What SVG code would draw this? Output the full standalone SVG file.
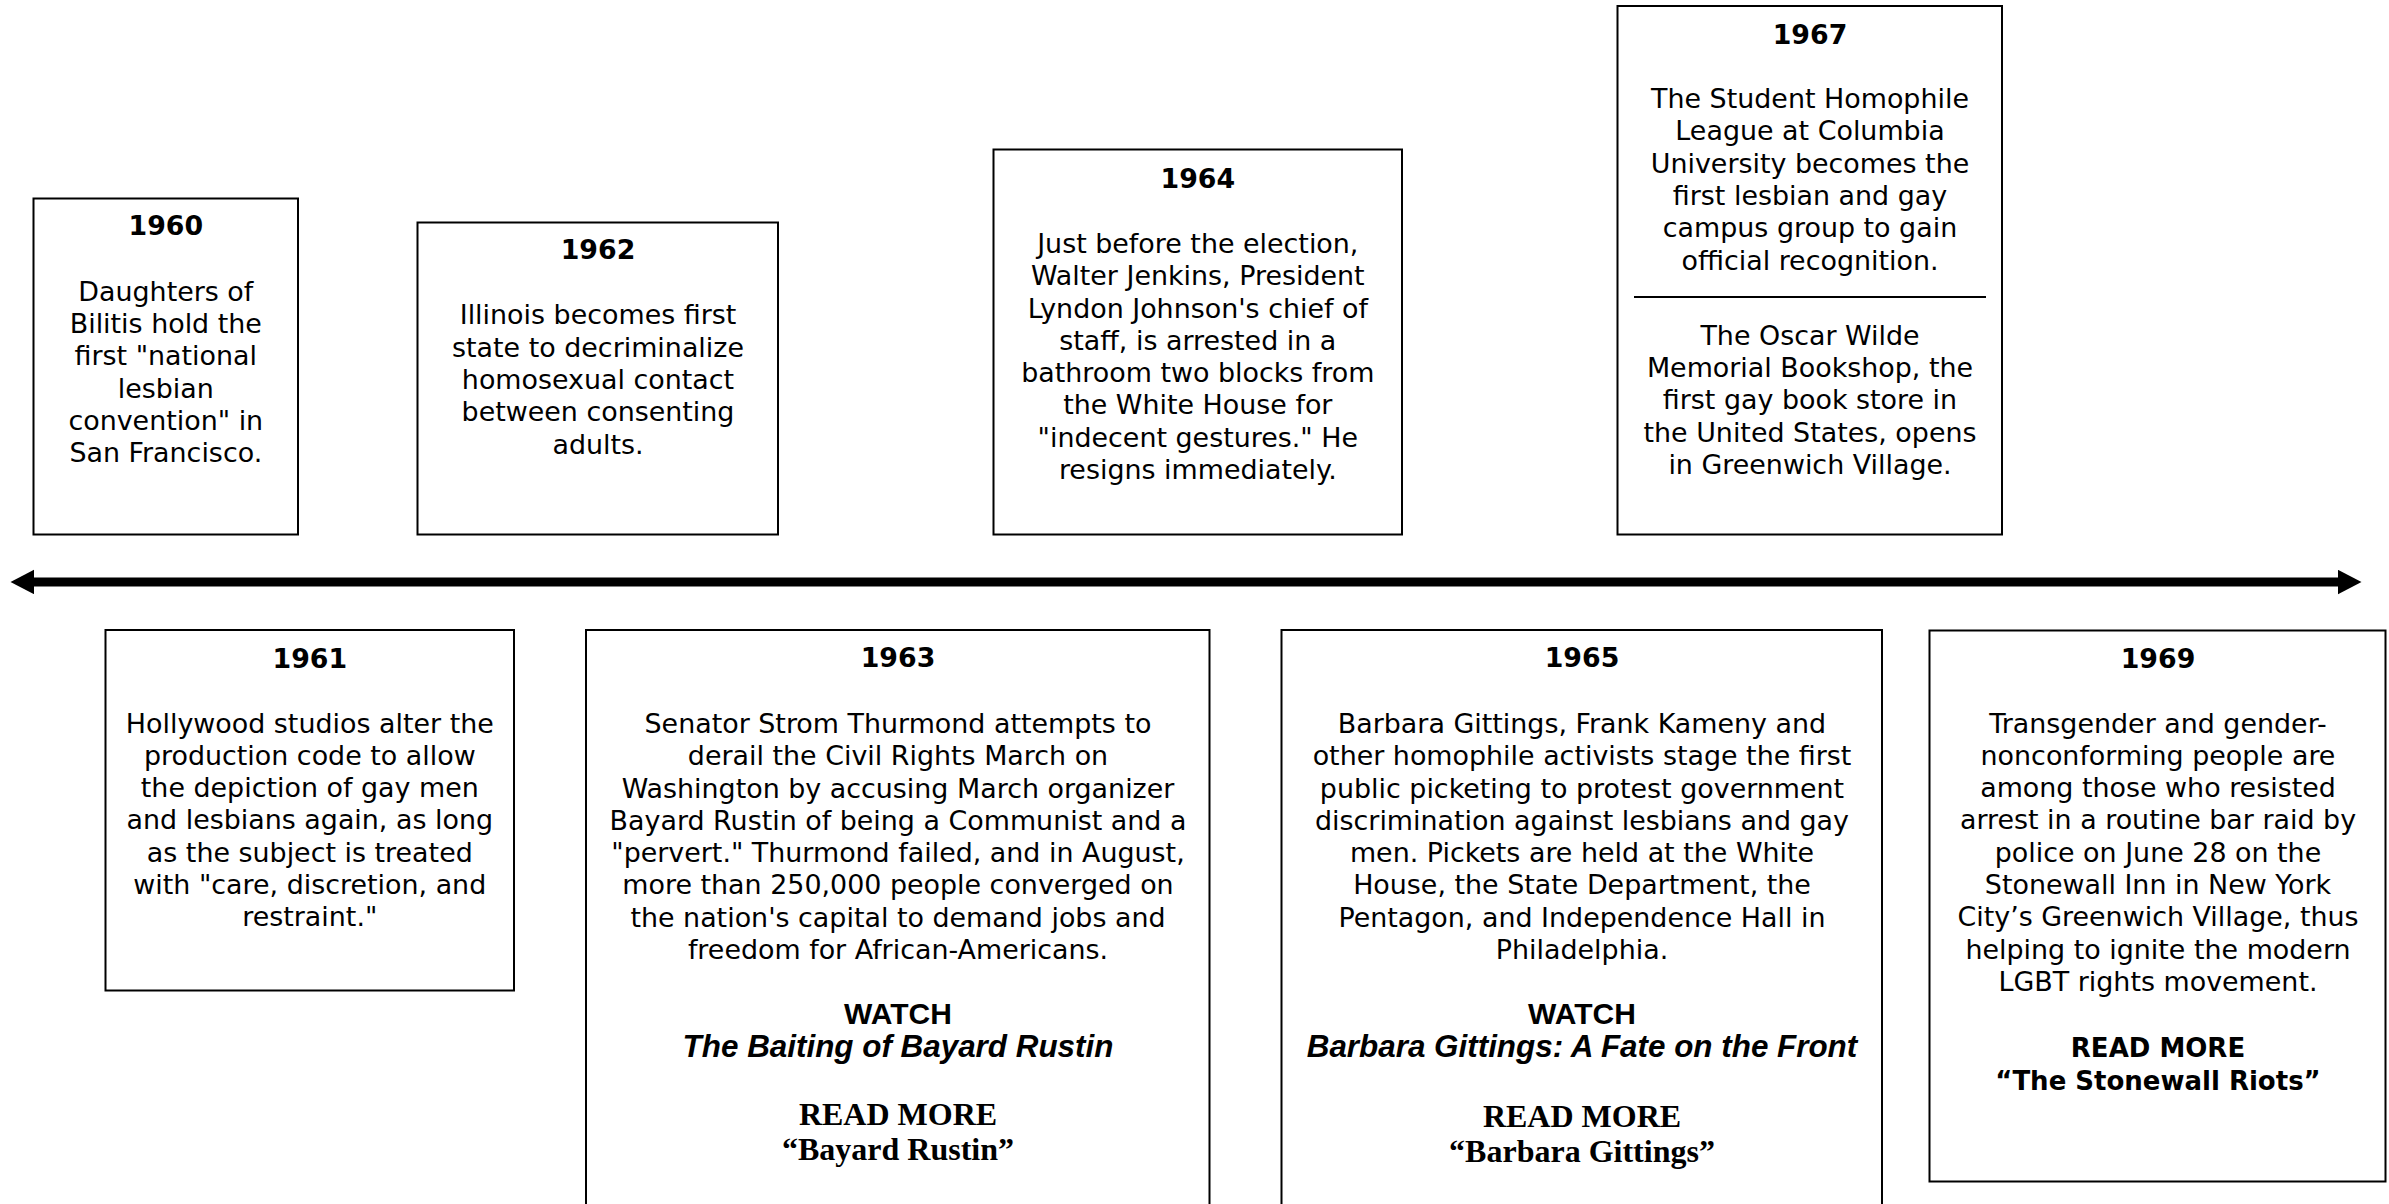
<svg xmlns="http://www.w3.org/2000/svg" width="2389" height="1204" viewBox="0 0 2389 1204">
<defs>
<style>
.box{fill:#fff;stroke:#000;stroke-width:2}
.yr{font-family:"DejaVu Sans",Verdana,sans-serif;font-weight:bold;font-size:26.8px;fill:#000;text-anchor:middle}
.bd{font-family:"DejaVu Sans",Verdana,sans-serif;font-size:26.9px;fill:#000;text-anchor:middle}
.wa{font-family:"Liberation Sans",Arial,sans-serif;font-weight:bold;font-size:30px;fill:#000;text-anchor:middle}
.ti{font-family:"Liberation Sans",Arial,sans-serif;font-weight:bold;font-style:italic;font-size:31.4px;fill:#000;text-anchor:middle}
.rm{font-family:"Liberation Serif","Times New Roman",serif;font-weight:bold;font-size:32px;fill:#000;text-anchor:middle}
.rv{font-family:"DejaVu Sans",Verdana,sans-serif;font-weight:bold;font-size:26px;fill:#000;text-anchor:middle}
</style>
<marker id="ah" markerUnits="userSpaceOnUse" markerWidth="24" markerHeight="25" refX="0" refY="12.2" orient="auto-start-reverse">
<path d="M0,0 L23.5,12.2 L0,24.4 z" fill="#000"/>
</marker>
</defs>
<rect width="2389" height="1204" fill="#fff"/>

<g id="connectors">
<line x1="34" y1="582" x2="2338" y2="582" stroke="#000" stroke-width="9" marker-start="url(#ah)" marker-end="url(#ah)"/>
</g>

<g id="n1960">
<rect class="box" x="33.5" y="198.5" width="264.5" height="336"/>
<text class="yr" x="165.8" y="235">1960</text>
<text class="bd" x="165.8" y="300.7">Daughters of</text>
<text class="bd" x="165.8" y="333">Bilitis hold the</text>
<text class="bd" x="165.8" y="365.3">first "national</text>
<text class="bd" x="165.8" y="397.6">lesbian</text>
<text class="bd" x="165.8" y="429.9">convention" in</text>
<text class="bd" x="165.8" y="462.2">San Francisco.</text>
</g>

<g id="n1962">
<rect class="box" x="417.5" y="222.5" width="360.5" height="312"/>
<text class="yr" x="598" y="259.3">1962</text>
<text class="bd" x="598" y="324.3">Illinois becomes first</text>
<text class="bd" x="598" y="356.6">state to decriminalize</text>
<text class="bd" x="598" y="388.9">homosexual contact</text>
<text class="bd" x="598" y="421.2">between consenting</text>
<text class="bd" x="598" y="453.5">adults.</text>
</g>

<g id="n1964">
<rect class="box" x="993.5" y="149.5" width="408.5" height="385"/>
<text class="yr" x="1197.8" y="187.5">1964</text>
<text class="bd" x="1197.8" y="252.9">Just before the election,</text>
<text class="bd" x="1197.8" y="285.2">Walter Jenkins, President</text>
<text class="bd" x="1197.8" y="317.5">Lyndon Johnson's chief of</text>
<text class="bd" x="1197.8" y="349.8">staff, is arrested in a</text>
<text class="bd" x="1197.8" y="382.1">bathroom two blocks from</text>
<text class="bd" x="1197.8" y="414.4">the White House for</text>
<text class="bd" x="1197.8" y="446.7">"indecent gestures." He</text>
<text class="bd" x="1197.8" y="479">resigns immediately.</text>
</g>

<g id="n1967">
<rect class="box" x="1617.5" y="6" width="384.5" height="528.5"/>
<text class="yr" x="1810" y="43.6">1967</text>
<text class="bd" x="1810" y="108">The Student Homophile</text>
<text class="bd" x="1810" y="140.3">League at Columbia</text>
<text class="bd" x="1810" y="172.6">University becomes the</text>
<text class="bd" x="1810" y="204.9">first lesbian and gay</text>
<text class="bd" x="1810" y="237.2">campus group to gain</text>
<text class="bd" x="1810" y="269.5">official recognition.</text>
<line x1="1634" y1="297" x2="1986" y2="297" stroke="#000" stroke-width="2"/>
<text class="bd" x="1810" y="344.6">The Oscar Wilde</text>
<text class="bd" x="1810" y="376.9">Memorial Bookshop, the</text>
<text class="bd" x="1810" y="409.2">first gay book store in</text>
<text class="bd" x="1810" y="441.5">the United States, opens</text>
<text class="bd" x="1810" y="473.8">in Greenwich Village.</text>
</g>

<g id="n1961">
<rect class="box" x="105.5" y="630" width="408.5" height="360.5"/>
<text class="yr" x="309.8" y="667.6">1961</text>
<text class="bd" x="309.8" y="732.5">Hollywood studios alter the</text>
<text class="bd" x="309.8" y="764.8">production code to allow</text>
<text class="bd" x="309.8" y="797.1">the depiction of gay men</text>
<text class="bd" x="309.8" y="829.4">and lesbians again, as long</text>
<text class="bd" x="309.8" y="861.7">as the subject is treated</text>
<text class="bd" x="309.8" y="894">with "care, discretion, and</text>
<text class="bd" x="309.8" y="926.3">restraint."</text>
</g>

<g id="n1963">
<rect class="box" x="586" y="630" width="623.5" height="590"/>
<text class="yr" x="898" y="667.4">1963</text>
<text class="bd" x="898" y="732.9">Senator Strom Thurmond attempts to</text>
<text class="bd" x="898" y="765.2">derail the Civil Rights March on</text>
<text class="bd" x="898" y="797.5">Washington by accusing March organizer</text>
<text class="bd" x="898" y="829.8">Bayard Rustin of being a Communist and a</text>
<text class="bd" x="898" y="862.1">"pervert." Thurmond failed, and in August,</text>
<text class="bd" x="898" y="894.4">more than 250,000 people converged on</text>
<text class="bd" x="898" y="926.7">the nation's capital to demand jobs and</text>
<text class="bd" x="898" y="959">freedom for African-Americans.</text>
<text class="wa" x="898" y="1024">WATCH</text>
<text class="ti" x="898" y="1056.5">The Baiting of Bayard Rustin</text>
<text class="rm" x="898" y="1124.5">READ MORE</text>
<text class="rm" x="898" y="1160">“Bayard Rustin”</text>
</g>

<g id="n1965">
<rect class="box" x="1281.5" y="630" width="600.5" height="590"/>
<text class="yr" x="1582" y="667.4">1965</text>
<text class="bd" x="1582" y="732.9">Barbara Gittings, Frank Kameny and</text>
<text class="bd" x="1582" y="765.2">other homophile activists stage the first</text>
<text class="bd" x="1582" y="797.5">public picketing to protest government</text>
<text class="bd" x="1582" y="829.8">discrimination against lesbians and gay</text>
<text class="bd" x="1582" y="862.1">men. Pickets are held at the White</text>
<text class="bd" x="1582" y="894.4">House, the State Department, the</text>
<text class="bd" x="1582" y="926.7">Pentagon, and Independence Hall in</text>
<text class="bd" x="1582" y="959">Philadelphia.</text>
<text class="wa" x="1582" y="1024">WATCH</text>
<text class="ti" x="1582" y="1056.5">Barbara Gittings: A Fate on the Front</text>
<text class="rm" x="1582" y="1127">READ MORE</text>
<text class="rm" x="1582" y="1162">“Barbara Gittings”</text>
</g>

<g id="n1969">
<rect class="box" x="1929.5" y="630.5" width="456" height="551"/>
<text class="yr" x="2158" y="667.6">1969</text>
<text class="bd" x="2158" y="732.5">Transgender and gender-</text>
<text class="bd" x="2158" y="764.8">nonconforming people are</text>
<text class="bd" x="2158" y="797.1">among those who resisted</text>
<text class="bd" x="2158" y="829.4">arrest in a routine bar raid by</text>
<text class="bd" x="2158" y="861.7">police on June 28 on the</text>
<text class="bd" x="2158" y="894">Stonewall Inn in New York</text>
<text class="bd" x="2158" y="926.3">City’s Greenwich Village, thus</text>
<text class="bd" x="2158" y="958.6">helping to ignite the modern</text>
<text class="bd" x="2158" y="990.9">LGBT rights movement.</text>
<text class="rv" x="2158" y="1057">READ MORE</text>
<text class="rv" x="2158" y="1089.5">“The Stonewall Riots”</text>
</g>
</svg>
